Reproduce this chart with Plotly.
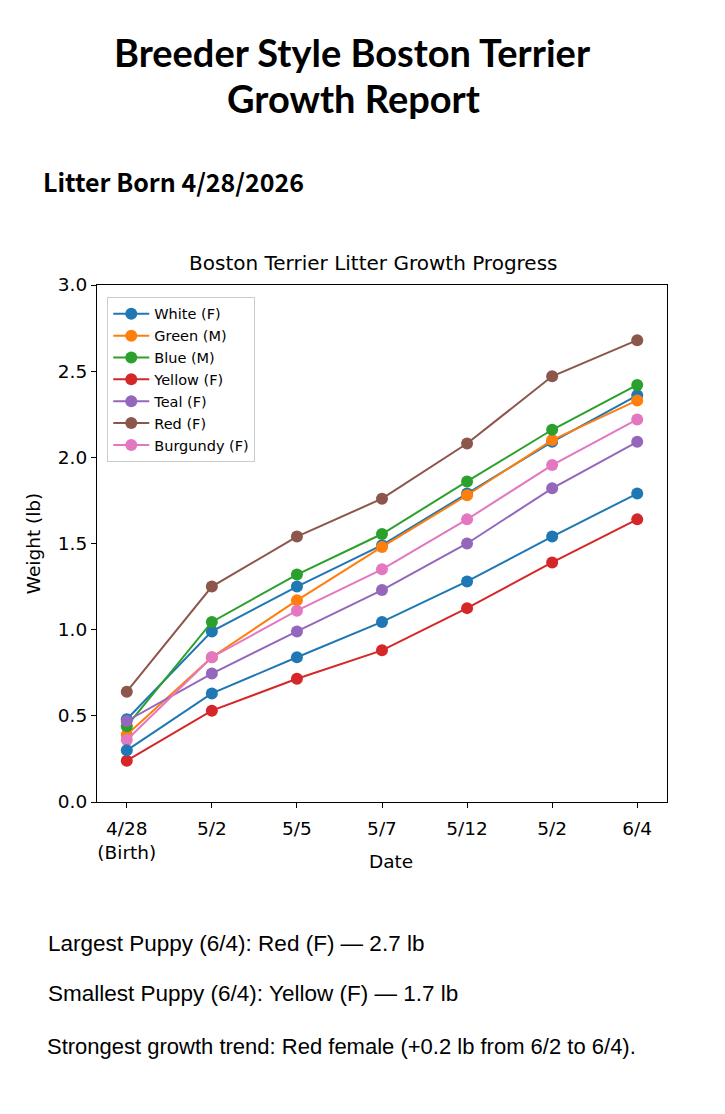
import plotly.graph_objects as go

dates = ["4/28<br>(Birth)", "5/2", "5/5", "5/7", "5/12", "5/2", "6/4"]
x_idx = list(range(len(dates)))

white_f = [0.48, 0.99, 1.25, 1.49, 1.79, 2.09, 2.36]
green_m = [0.39, 0.84, 1.17, 1.48, 1.78, 2.10, 2.33]
blue_m = [0.44, 1.045, 1.32, 1.555, 1.86, 2.16, 2.42]
yellow_f = [0.24, 0.53, 0.715, 0.88, 1.125, 1.39, 1.64]
teal_f = [0.47, 0.745, 0.99, 1.23, 1.50, 1.82, 2.09]
red_f = [0.64, 1.25, 1.54, 1.76, 2.08, 2.47, 2.68]
burgundy_f = [0.36, 0.84, 1.11, 1.35, 1.64, 1.955, 2.22]
extra_blue = [0.30, 0.63, 0.84, 1.045, 1.28, 1.54, 1.79]

series = [
    ("White (F)", white_f, "#1f77b4", True),
    ("Green (M)", green_m, "#ff7f0e", True),
    ("Blue (M)", blue_m, "#2ca02c", True),
    ("Yellow (F)", yellow_f, "#d62728", True),
    ("Teal (F)", teal_f, "#9467bd", True),
    ("Red (F)", red_f, "#8c564b", True),
    ("Burgundy (F)", burgundy_f, "#e377c2", True),
    ("White (F)", extra_blue, "#1f77b4", False),
]

fig = go.Figure()
for name, vals, color, show in series:
    fig.add_trace(go.Scatter(
        x=x_idx, y=vals, name=name, mode="lines+markers",
        line=dict(color=color, width=2),
        marker=dict(color=color, size=12, symbol="circle"),
        showlegend=show,
    ))

axis_common = dict(
    showline=True, linecolor="black", linewidth=1.2, mirror=True,
    ticks="outside", ticklen=5, tickcolor="black", showgrid=False, zeroline=False,
    tickfont=dict(family="DejaVu Sans", size=18.5, color="black"),
)

fig.update_layout(
    width=725, height=1114,
    margin=dict(l=97, r=58, t=285, b=312),
    paper_bgcolor="white", plot_bgcolor="white",
    font=dict(family="DejaVu Sans", color="black"),
    xaxis=dict(
        range=[-0.35, 6.35], tickmode="array", tickvals=x_idx, ticktext=dates,
        ticklabelstandoff=5,
        **axis_common,
    ),
    yaxis=dict(
        range=[0, 3], tickmode="array", tickvals=[0, 0.5, 1.0, 1.5, 2.0, 2.5, 3.0],
        ticktext=["0.0", "0.5", "1.0", "1.5", "2.0", "2.5", "3.0"],
        title=dict(text="Weight (lb)", font=dict(family="DejaVu Sans", size=18.5), standoff=12),
        **axis_common,
    ),
    legend=dict(
        x=0.018, y=0.977, xanchor="left", yanchor="top",
        bgcolor="rgba(255,255,255,0.85)", bordercolor="#cccccc", borderwidth=1,
        font=dict(family="DejaVu Sans", size=14.5, color="black"),
        tracegroupgap=0, itemwidth=36,
    ),
    showlegend=True,
)

annotations = [
    dict(text="<b>Breeder Style Boston Terrier</b>", x=352, y=52, size=38, family="Lato", anchor="center"),
    dict(text="<b>Growth Report</b>", x=353, y=98, size=38, family="Lato", anchor="center"),
    dict(text="<b>Litter Born 4/28/2026</b>", x=41, y=181, size=25, family="Noto Sans CJK SC", anchor="left"),
    dict(text="Boston Terrier Litter Growth Progress", x=373, y=263, size=20, family="DejaVu Sans", anchor="center"),
    dict(text="Date", x=391, y=861, size=18.5, family="DejaVu Sans", anchor="center"),
    dict(text="Largest Puppy (6/4): Red (F) \u2014 2.7 lb", x=46, y=943, size=22.5, family="Liberation Sans", anchor="left"),
    dict(text="Smallest Puppy (6/4): Yellow (F) \u2014 1.7 lb", x=46, y=993, size=22.5, family="Liberation Sans", anchor="left"),
    dict(text="Strongest growth trend: Red female (+0.2 lb from 6/2 to 6/4).", x=45, y=1046, size=22, family="Liberation Sans", anchor="left"),
]
for a in annotations:
    fig.add_annotation(
        text=a["text"], xref="paper", yref="paper",
        x=(a["x"] - 97) / 570, y=(802 - a["y"]) / 517,
        xanchor=a["anchor"], yanchor="middle", showarrow=False,
        font=dict(family=a["family"], size=a["size"], color="black"),
    )

fig.write_html("out.html")
